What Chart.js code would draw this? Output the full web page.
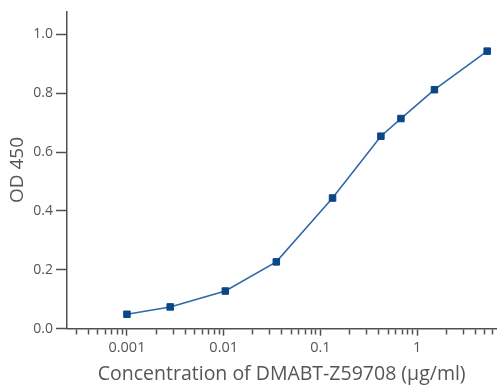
<!DOCTYPE html>
<html>
<head>
<meta charset="utf-8">
<script src="https://cdn.jsdelivr.net/npm/chart.js@4/dist/chart.umd.min.js"></script>
<style>
  html, body { margin: 0; padding: 0; background: #fff; }
  #grafico { display: block; }
</style>
</head>
<body>
<canvas id="grafico" width="502" height="387"></canvas>
<script>
// concentraciones (ug/ml) y lecturas OD 450
const concentraciones = [0.001, 0.0028, 0.0104, 0.035, 0.1335, 0.422, 0.68, 1.51, 5.3];
const lecturasOD = [0.049, 0.074, 0.128, 0.227, 0.444, 0.654, 0.714, 0.812, 0.943];

const ticksMayores = [0.001, 0.01, 0.1, 1];
const ticksY = [0, 0.2, 0.4, 0.6, 0.8, 1.0];

const tituloX = 'Concentration of DMABT-Z59708 (\u00b5g/ml)';
const tituloY = 'OD 450';

const xMin = 0.00024;
const xMax = 6.6;
const colorTexto = '#555555';
const colorEje = '#505050';

// todas las marcas del eje log (1..9 x 10^n) dentro del rango
function marcasLog() {
  const marcas = [];
  for (let e = -4; e <= 1; e++) {
    for (let m = 1; m <= 9; m++) {
      const v = parseFloat((m * Math.pow(10, e)).toPrecision(3));
      if (v >= xMin && v <= xMax) marcas.push(v);
    }
  }
  return marcas;
}

function esMayor(v) {
  return ticksMayores.some(t => Math.abs(t - v) / t < 1e-6);
}

const ctx = document.querySelector('#grafico').getContext('2d');

const config = {
  type: 'line',
  data: {
    datasets: [{
      label: tituloY,
      data: concentraciones.map((c, i) => ({x: c, y: lecturasOD[i]})),
      borderColor: '#2e69a9',
      borderWidth: 1.6,
      backgroundColor: '#0b4687',
      pointStyle: 'rect',
      pointRadius: 4.6,
      pointBorderWidth: 1,
      pointBorderColor: '#0b4687',
      pointBackgroundColor: '#0b4687',
      tension: 0,
      fill: false,
      clip: false
    }]
  },
  options: {
    responsive: false,
    animation: false,
    devicePixelRatio: 1,
    layout: { padding: { top: 10, left: 0, right: 0, bottom: 0 } },
    plugins: {
      legend: { display: false },
      tooltip: { enabled: false }
    },
    scales: {
      x: {
        type: 'logarithmic',
        min: xMin,
        max: xMax,
        bounds: 'data',
        afterBuildTicks: function(scale) {
          scale.ticks = marcasLog().map(v => ({value: v, major: esMayor(v)}));
        },
        afterFit: function(scale) {
          scale.height = 58.3;
        },
        border: { display: true, color: colorEje, width: 1.5 },
        grid: {
          drawOnChartArea: false,
          drawTicks: true,
          tickLength: 7,
          tickColor: colorEje,
          tickWidth: 1.5,
          tickBorderDash: function(c) {
            return (c.tick && esMayor(c.tick.value)) ? [] : [5, 40];
          }
        },
        ticks: {
          autoSkip: false,
          maxRotation: 0,
          minRotation: 0,
          padding: 3,
          color: colorTexto,
          font: { family: 'Open Sans', size: 14.5 },
          callback: function(value) {
            return esMayor(value) ? String(value) : '';
          }
        },
        title: {
          display: true,
          text: tituloX,
          color: colorTexto,
          font: { family: 'Open Sans', size: 19.5 },
          padding: { top: 0, bottom: 1 }
        }
      },
      y: {
        type: 'linear',
        min: 0,
        max: 1.078,
        afterBuildTicks: function(scale) {
          scale.ticks = ticksY.map(v => ({value: v}));
        },
        afterFit: function(scale) {
          scale.width = 67;
        },
        border: { display: true, color: colorEje, width: 1.5 },
        grid: {
          drawOnChartArea: false,
          drawTicks: true,
          tickLength: 11,
          tickColor: colorEje,
          tickWidth: 1.5
        },
        ticks: {
          padding: 3,
          color: colorTexto,
          font: { family: 'Open Sans', size: 14 },
          callback: function(value) {
            return value.toFixed(1);
          }
        },
        title: {
          display: true,
          text: tituloY,
          color: colorTexto,
          font: { family: 'Open Sans', size: 19 },
          padding: { top: 6, bottom: 0 }
        }
      }
    }
  }
};

const grafico = new Chart(ctx, config);
</script>
</body>
</html>
